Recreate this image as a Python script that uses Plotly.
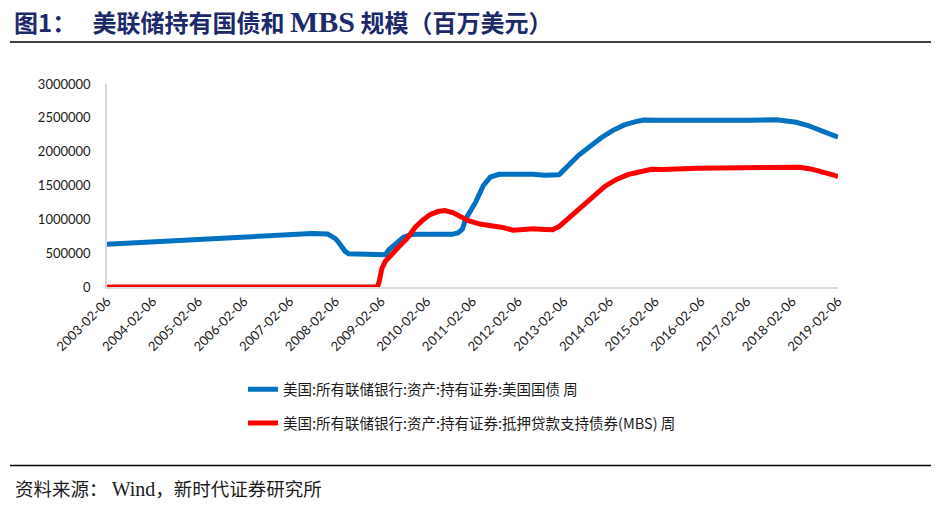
import plotly.graph_objects as go

# ---------------- data ----------------
tsy_dates = [
    "2003-02-06", "2004-02-05", "2005-02-02", "2006-02-01", "2007-02-07", "2007-08-01",
    "2007-12-05", "2008-01-02", "2008-02-06", "2008-03-05", "2008-03-26", "2008-04-23",
    "2008-05-21", "2008-09-03", "2009-01-07", "2009-03-11", "2009-04-08", "2009-06-03",
    "2009-08-05", "2009-10-07", "2009-11-04", "2010-06-02", "2010-08-25", "2010-10-13",
    "2010-11-17", "2010-12-15", "2011-03-02", "2011-05-04", "2011-06-29", "2011-09-07",
    "2011-12-07", "2012-03-07", "2012-06-06", "2012-09-05", "2012-12-26", "2013-01-02",
    "2013-06-05", "2013-12-04", "2014-03-05", "2014-06-04", "2014-09-03", "2014-11-05",
    "2015-03-04", "2015-09-02", "2016-03-02", "2016-09-07", "2017-03-01", "2017-10-04",
    "2017-12-27", "2018-03-07", "2018-06-06", "2018-09-05", "2018-12-05", "2019-02-06",
]
tsy_values = [
    632000, 666000, 715000, 748000, 772000, 790000,
    785000, 760000, 715000, 655000, 590000, 530000,
    490000, 482000, 478000, 476000, 550000, 645000,
    740000, 772000, 778000, 778000, 778000, 800000,
    855000, 1010000, 1250000, 1500000, 1625000, 1665000,
    1675000, 1668000, 1665000, 1652000, 1660000, 1665000,
    1950000, 2210000, 2315000, 2395000, 2445000, 2468000,
    2465000, 2462000, 2465000, 2465000, 2465000, 2470000,
    2460000, 2435000, 2390000, 2325000, 2255000, 2215000,
]

mbs_dates = [
    "2003-02-06", "2009-01-07", "2009-01-21", "2009-02-11", "2009-03-11", "2009-05-06",
    "2009-07-01", "2009-09-02", "2009-11-04", "2009-12-30", "2010-03-03", "2010-05-05",
    "2010-06-30", "2010-09-01", "2010-11-03", "2011-01-05", "2011-04-06", "2011-07-06",
    "2011-10-05", "2011-12-28", "2012-03-07", "2012-06-06", "2012-09-05", "2012-11-07",
    "2013-01-02", "2013-04-03", "2013-07-03", "2013-10-02", "2014-01-01", "2014-04-02",
    "2014-07-02", "2014-10-01", "2015-01-07", "2015-04-01", "2015-07-01", "2016-01-06",
    "2016-07-06", "2017-01-04", "2017-07-05", "2018-01-03", "2018-04-04", "2018-07-04",
    "2018-10-03", "2019-01-02", "2019-02-06",
]
mbs_values = [
    0, 0, 80000, 270000, 380000, 500000,
    600000, 720000, 880000, 980000, 1070000, 1115000,
    1129000, 1100000, 1040000, 980000, 930000, 910000,
    880000, 840000, 850000, 860000, 850000, 845000,
    900000, 1050000, 1200000, 1350000, 1490000, 1590000,
    1660000, 1700000, 1740000, 1735000, 1745000, 1755000,
    1760000, 1765000, 1780000, 1780000, 1770000, 1745000,
    1705000, 1655000, 1630000,
]

tick_dates = ["%d-02-06" % y for y in range(2003, 2020)]
y_ticks = [0, 500000, 1000000, 1500000, 2000000, 2500000, 3000000]

series_names = [
    "美国:所有联储银行:资产:持有证券:美国国债 周",
    "美国:所有联储银行:资产:持有证券:抵押贷款支持债券(MBS) 周",
]
series_colors = ["#0070C0", "#FF0000"]

cjk = "'Noto Sans CJK SC', sans-serif"

title_html = ("<b>图1：   美联储持有国债和 </b>"
              "<span style=\"font-family:'Liberation Serif', serif; font-size:30px\"><b>MBS</b></span>"
              "<b> 规模（百万美元）</b>")
source_html = ("资料来源： "
               "<span style=\"font-family:'Liberation Serif', serif; font-size:20px\">Wind</span>"
               "，新时代证券研究所")

# ---------------- figure ----------------
fig = go.Figure()
fig.add_trace(go.Scatter(x=tsy_dates, y=tsy_values, mode="lines", name=series_names[0],
                         line=dict(color=series_colors[0], width=5), legendgroup="a"))
fig.add_trace(go.Scatter(x=mbs_dates, y=mbs_values, mode="lines", name=series_names[1],
                         line=dict(color=series_colors[1], width=5), legendgroup="b"))

tick_font = dict(family="Lato, 'Noto Sans', sans-serif", size=13, color="#1a1a1a")

fig.update_layout(
    width=943, height=505,
    margin=dict(l=107, r=105, t=84, b=218),
    paper_bgcolor="white", plot_bgcolor="white",
    showlegend=True,
    legend=dict(
        x=0.186, y=-0.425, xanchor="left", yanchor="top",
        orientation="v", tracegroupgap=12,
        font=dict(family=cjk, size=14.5, color="#1a1a1a"),
        bgcolor="rgba(0,0,0,0)",
    ),
    xaxis=dict(
        type="date",
        range=[tick_dates[0], tick_dates[-1]],
        tickmode="array", tickvals=tick_dates, ticktext=tick_dates,
        tickangle=-45, tickfont=tick_font,
        showgrid=False, zeroline=False,
        showline=True, linecolor="#d9d9d9", linewidth=1.5,
        ticks="",
    ),
    yaxis=dict(
        range=[0, 3000000],
        tickmode="array", tickvals=y_ticks, ticktext=[str(v) for v in y_ticks],
        tickfont=tick_font,
        showgrid=False, zeroline=False,
        showline=True, linecolor="#d9d9d9", linewidth=1.5,
        ticks="", ticklabelstandoff=12,
    ),
    annotations=[
        dict(text=title_html, xref="paper", yref="paper",
             x=(12 - 107) / 731, y=(286.7 - 22) / 202.7, xanchor="left", yanchor="middle",
             showarrow=False,
             font=dict(family=cjk, size=24, color="#1c2a6b")),
        dict(text=source_html, xref="paper", yref="paper",
             x=(13 - 107) / 731, y=(286.7 - 487) / 202.7, xanchor="left", yanchor="middle",
             showarrow=False,
             font=dict(family=cjk, size=18.5, color="#1a1a1a")),
    ],
    shapes=[
        dict(type="line", xref="paper", yref="paper",
             x0=(10 - 107) / 731, x1=(931 - 107) / 731,
             y0=(286.7 - 42) / 202.7, y1=(286.7 - 42) / 202.7,
             line=dict(color="black", width=1.5)),
        dict(type="line", xref="paper", yref="paper",
             x0=(10 - 107) / 731, x1=(931 - 107) / 731,
             y0=(286.7 - 465) / 202.7, y1=(286.7 - 465) / 202.7,
             line=dict(color="black", width=1.5)),
    ],
)

fig.write_html("out.html")
